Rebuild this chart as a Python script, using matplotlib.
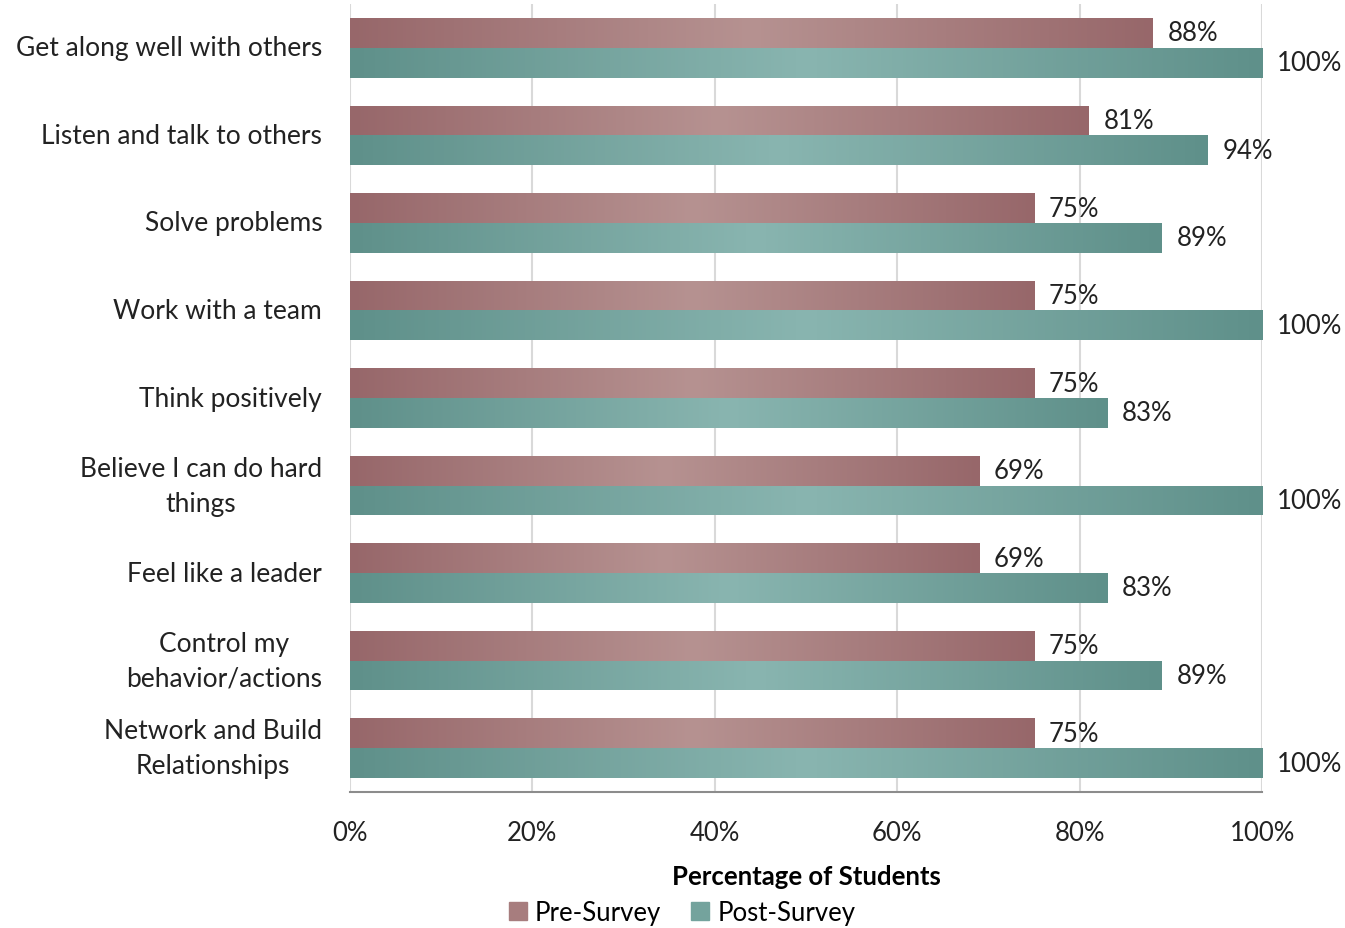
import numpy as np
import matplotlib.pyplot as plt
from matplotlib.patches import Rectangle

plt.rcParams['font.family'] = ['Lato', 'DejaVu Sans']

# Survey items, top to bottom
skills = ['Get along well with others', 'Listen and talk to others', 'Solve problems',
          'Work with a team', 'Think positively', 'Believe I can do hard\nthings',
          'Feel like a leader', 'Control my\nbehavior/actions', 'Network and Build\nRelationships']
pre_survey = [88, 81, 75, 75, 75, 69, 69, 75, 75]
post_survey = [100, 94, 89, 100, 83, 100, 83, 89, 100]
xticks = [0, 20, 40, 60, 80, 100]

pre_dark, pre_light = np.array([151, 103, 106]) / 255, np.array([182, 146, 145]) / 255
post_dark, post_light = np.array([95, 144, 138]) / 255, np.array([137, 181, 176]) / 255
FS = 18.5


def gradient_bar(ax, x, y, h, dark, light):
    # dark at both ends, light in the middle
    t = np.linspace(0, 1, 256)
    w = 1 - np.abs(2 * t - 1)
    cols = dark[None, :] * (1 - w[:, None]) + light[None, :] * w[:, None]
    img = cols[None, :, :]
    im = ax.imshow(img, extent=(0, x, y - h / 2, y + h / 2), aspect='auto', zorder=2)
    rect = Rectangle((0, y - h / 2), x, h, transform=ax.transData, fill=False, lw=0)
    ax.add_patch(rect)
    im.set_clip_path(rect)


fig = plt.figure(figsize=(13.45, 9.29), dpi=100)
ax = fig.add_axes([0.2602, 0.1464, 0.6783, 0.8482])

n = len(skills)
pos = np.arange(n)
h = 0.34
for i in range(n):
    gradient_bar(ax, pre_survey[i], pos[i] - h / 2, h, pre_dark, pre_light)
    gradient_bar(ax, post_survey[i], pos[i] + h / 2, h, post_dark, post_light)
    ax.text(pre_survey[i] + 1.6, pos[i] - h / 2, f'{pre_survey[i]}%', va='center',
            ha='left', fontsize=FS, color='#222222')
    ax.text(post_survey[i] + 1.6, pos[i] + h / 2, f'{post_survey[i]}%', va='center',
            ha='left', fontsize=FS, color='#222222', clip_on=False)

ax.set_xlim(0, 100)
ax.set_ylim(n - 0.5, -0.5)
ax.set_yticks(pos)
ax.set_yticklabels(skills, fontsize=19, color='#222222', ha='right', va='center',
                   multialignment='center', linespacing=1.5)
ax.tick_params(axis='y', length=0, pad=20)
ax.set_xticks(xticks)
ax.set_xticklabels([f'{v}%' for v in xticks], fontsize=FS, color='#222222')
ax.tick_params(axis='x', length=0, pad=20)
ax.grid(axis='x', color='#d9d9d9', lw=1.5, zorder=0)
ax.set_axisbelow(True)
for s in ['top', 'right', 'left']:
    ax.spines[s].set_visible(False)
ax.spines['bottom'].set_color('#8c8c8c')
ax.spines['bottom'].set_linewidth(1.5)

ax.set_xlabel('Percentage of Students', fontsize=FS, fontweight='bold', labelpad=14)

handles = [Rectangle((0, 0), 1, 1, color=(pre_dark + pre_light) / 2),
           Rectangle((0, 0), 1, 1, color=(post_dark + post_light) / 2)]
fig.legend(handles, ['Pre-Survey', 'Post-Survey'], loc='center', bbox_to_anchor=(0.507, 0.017),
           ncol=2, frameon=False, fontsize=FS, handlelength=0.7, handleheight=0.7,
           handletextpad=0.3, columnspacing=1.2)

fig.savefig('out.png', dpi=100)
